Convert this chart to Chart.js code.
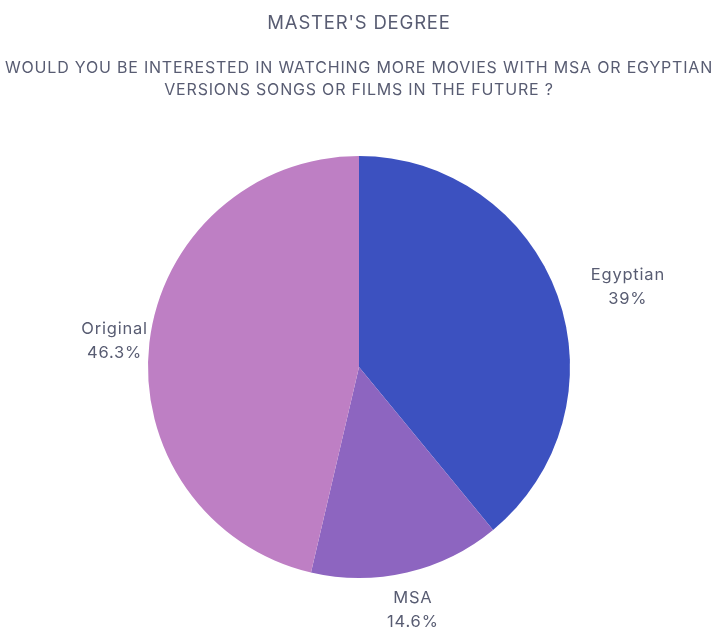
<!DOCTYPE html>
<html>
<head>
<meta charset="utf-8">
<script src="https://cdn.jsdelivr.net/npm/chart.js@4/dist/chart.umd.min.js"></script>
<style>
  html, body { margin: 0; padding: 0; background: #fff; }
  #wrap { width: 721px; height: 627px; }
</style>
</head>
<body>
<div id="wrap"><canvas id="pie" width="721" height="627"></canvas></div>
<script>
const answers = ['Egyptian', 'MSA', 'Original'];
const shares = [39, 14.6, 46.3];
const shareLabels = ['39%', '14.6%', '46.3%'];
const sliceColors = ['#3c51c0', '#8d65c0', '#be7fc4'];

const TEXT_COLOR = '#585c72';
const FONT = 'Inter, "Noto Sans", sans-serif';

// a bit of tracking on all canvas text so it reads wider
const tracking = {
  id: 'tracking',
  beforeDraw(chart, args, opts) { chart.ctx.letterSpacing = opts.spacing; },
  afterDraw(chart) { chart.ctx.letterSpacing = '0px'; }
};

// labels sit just outside each slice, nudged a little so they don't crowd the rim
const outsideLabels = {
  id: 'outsideLabels',
  afterDatasetsDraw(chart, args, opts) {
    const ctx = chart.ctx;
    const arcs = chart.getDatasetMeta(0).data;
    ctx.save();
    ctx.fillStyle = TEXT_COLOR;
    ctx.font = '16.5px ' + FONT;
    ctx.textAlign = 'center';
    ctx.textBaseline = 'middle';
    arcs.forEach((arc, i) => {
      const p = arc.getProps(['x', 'y', 'startAngle', 'endAngle', 'outerRadius'], true);
      const mid = (p.startAngle + p.endAngle) / 2;
      const r = p.outerRadius + opts.gap;
      const nudge = opts.nudge[i];
      const cx = p.x + Math.cos(mid) * r + nudge[0];
      const cy = p.y + Math.sin(mid) * r + nudge[1];
      ctx.fillText(answers[i], cx, cy - opts.lineGap / 2);
      ctx.fillText(shareLabels[i], cx, cy + opts.lineGap / 2);
    });
    ctx.restore();
  }
};

new Chart(document.getElementById('pie'), {
  type: 'pie',
  data: {
    labels: answers,
    datasets: [{
      data: shares,
      backgroundColor: sliceColors,
      borderWidth: 0
    }]
  },
  options: {
    responsive: false,
    animation: false,
    radius: 211,
    layout: { padding: { left: 0, right: 3, top: 0, bottom: 0 } },
    plugins: {
      legend: { display: false },
      tooltip: { enabled: false },
      tracking: { spacing: '0.8px' },
      title: {
        display: true,
        text: "MASTER'S DEGREE",
        color: TEXT_COLOR,
        font: { family: FONT, size: 18.5, weight: 'normal', lineHeight: 20.4 / 18.5 },
        padding: { top: 13, bottom: 23.6 }
      },
      subtitle: {
        display: true,
        text: ['WOULD YOU BE INTERESTED IN WATCHING MORE MOVIES WITH MSA OR EGYPTIAN',
               'VERSIONS SONGS OR FILMS IN THE FUTURE ?'],
        color: TEXT_COLOR,
        font: { family: FONT, size: 16, weight: 'normal', lineHeight: 22 / 16 },
        padding: { top: 0, bottom: 6 }
      },
      outsideLabels: {
        gap: 30,
        lineGap: 24,
        nudge: [[42, 1], [-1, 8], [-5, 2]]
      }
    }
  },
  plugins: [tracking, outsideLabels]
});
</script>
</body>
</html>
